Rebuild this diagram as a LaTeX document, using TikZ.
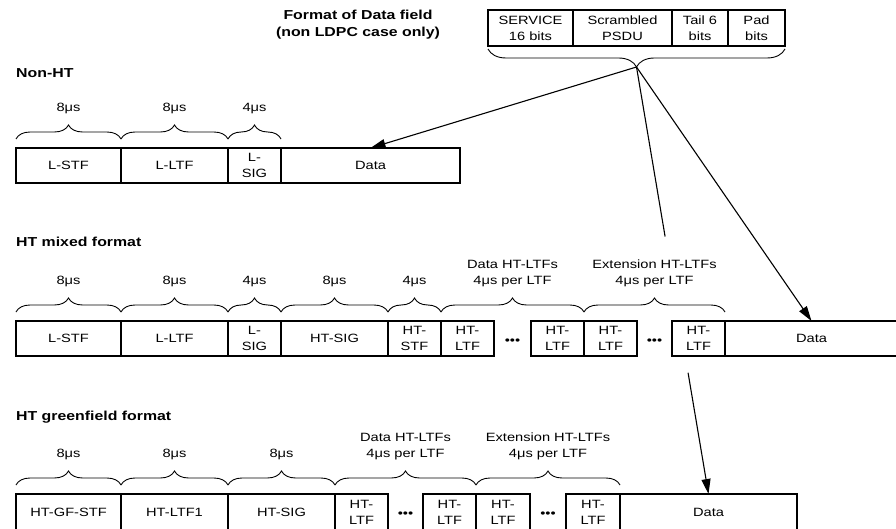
\documentclass[tikz,border=0pt]{standalone}
\usepackage{fontspec}
\setmainfont{Liberation Sans}[FakeStretch=1.22]
\usetikzlibrary{arrows.meta, positioning, calc, decorations.pathreplacing}

\begin{document}
\begin{tikzpicture}[x=1pt, y=-1pt,
  field/.style={rectangle, draw, line width=1.1pt, minimum height=35pt, inner sep=0pt, outer sep=0pt, align=center, font=\fontsize{12}{16}\selectfont},
  brace/.style={decorate, decoration={brace, amplitude=14pt, raise=9pt}, line width=0.9pt},
  downbrace/.style={decorate, decoration={brace, amplitude=18pt, raise=3pt}, line width=0.9pt},
  dur/.style={midway, above=34pt, inner sep=0pt, align=center, font=\fontsize{12}{16}\selectfont},
  title/.style={inner sep=0pt, align=center, font=\bfseries\fontsize{13}{17}\selectfont},
  dots/.style={inner sep=0pt, font=\fontsize{12}{12}\selectfont},
  arrow/.style={-{Triangle[length=15pt, width=9pt]}, line width=1.1pt}
]
  \useasboundingbox (0,0) rectangle (896,529);
  % Data field format
  \node[title] (fmt) at (358,24.5) {Format of Data field\\(non LDPC case only)};
  \node[field, minimum height=36pt, minimum width=85pt, anchor=west] (svc) at (488,28) {SERVICE\\16 bits};
  \node[field, minimum height=36pt, minimum width=99pt, right=0pt of svc] (psdu) {Scrambled\\PSDU};
  \node[field, minimum height=36pt, minimum width=56pt, right=0pt of psdu] (tail) {Tail 6\\bits};
  \node[field, minimum height=36pt, minimum width=57pt, right=0pt of tail] (pad) {Pad\\bits};
  \draw[downbrace] (pad.south east) -- (svc.south west);
  \coordinate (tip) at (636.5,67);
  % Non-HT
  \node[title, anchor=west] (nlbl) at (16,73) {Non-HT};
  \node[field, minimum width=105pt, anchor=west] (n1) at (16,165.5) {L-STF};
  \node[field, minimum width=107pt, right=0pt of n1] (n2) {L-LTF};
  \node[field, minimum width=53pt, right=0pt of n2] (n3) {L-\\SIG};
  \node[field, minimum width=179pt, right=0pt of n3] (ndata) {Data};
  \draw[brace] (n1.north west) -- node[dur] {8μs} (n1.north east);
  \draw[brace] (n2.north west) -- node[dur] {8μs} (n2.north east);
  \draw[brace] (n3.north west) -- node[dur] {4μs} (n3.north east);
  % HT mixed format
  \node[title, anchor=west] (mlbl) at (16,242) {HT mixed format};
  \node[field, minimum width=105pt, anchor=west] (m1) at (16,338.5) {L-STF};
  \node[field, minimum width=107pt, right=0pt of m1] (m2) {L-LTF};
  \node[field, minimum width=53pt, right=0pt of m2] (m3) {L-\\SIG};
  \node[field, minimum width=107pt, right=0pt of m3] (m4) {HT-SIG};
  \node[field, minimum width=53pt, right=0pt of m4] (m5) {HT-\\STF};
  \node[field, minimum width=53pt, right=0pt of m5] (m6) {HT-\\LTF};
  \node[field, minimum width=53pt, right=37pt of m6] (m7) {HT-\\LTF};
  \node[field, minimum width=53pt, right=0pt of m7] (m8) {HT-\\LTF};
  \node[field, minimum width=53pt, right=35pt of m8] (m9) {HT-\\LTF};
  \node[field, minimum width=173pt, right=0pt of m9] (mdata) {Data};
  \node[dots] (md1) at ($(m6.east)!0.5!(m7.west)+(0,3)$) {•••};
  \node[dots] (md2) at ($(m8.east)!0.5!(m9.west)+(0,3)$) {•••};
  \draw[brace] (m1.north west) -- node[dur] {8μs} (m1.north east);
  \draw[brace] (m2.north west) -- node[dur] {8μs} (m2.north east);
  \draw[brace] (m3.north west) -- node[dur] {4μs} (m3.north east);
  \draw[brace] (m4.north west) -- node[dur] {8μs} (m4.north east);
  \draw[brace] (m5.north west) -- node[dur] {4μs} (m5.north east);
  \draw[brace] (m6.north west) -- node[dur] {Data HT-LTFs\\4μs per LTF} (m7.north east);
  \draw[brace] (m8.north west) -- node[dur] {Extension HT-LTFs\\4μs per LTF} (m9.north east);
  % HT greenfield format
  \node[title, anchor=west] (glbl) at (16,417) {HT greenfield format};
  \node[field, minimum height=36pt, minimum width=105pt, anchor=west] (g1) at (16,512) {HT-GF-STF};
  \node[field, minimum height=36pt, minimum width=107pt, right=0pt of g1] (g2) {HT-LTF1};
  \node[field, minimum height=36pt, minimum width=107pt, right=0pt of g2] (g3) {HT-SIG};
  \node[field, minimum height=36pt, minimum width=53pt, right=0pt of g3] (g4) {HT-\\LTF};
  \node[field, minimum height=36pt, minimum width=53pt, right=35pt of g4] (g5) {HT-\\LTF};
  \node[field, minimum height=36pt, minimum width=54pt, right=0pt of g5] (g6) {HT-\\LTF};
  \node[field, minimum height=36pt, minimum width=54pt, right=36pt of g6] (g7) {HT-\\LTF};
  \node[field, minimum height=36pt, minimum width=177pt, right=0pt of g7] (gdata) {Data};
  \node[dots] (gd1) at ($(g4.east)!0.5!(g5.west)+(0,3)$) {•••};
  \node[dots] (gd2) at ($(g6.east)!0.5!(g7.west)+(0,3)$) {•••};
  \draw[brace] (g1.north west) -- node[dur] {8μs} (g1.north east);
  \draw[brace] (g2.north west) -- node[dur] {8μs} (g2.north east);
  \draw[brace] (g3.north west) -- node[dur] {8μs} (g3.north east);
  \draw[brace] (g4.north west) -- node[dur] {Data HT-LTFs\\4μs per LTF} (g5.north east);
  \draw[brace] (g6.north west) -- node[dur] {Extension HT-LTFs\\4μs per LTF} (g7.north east);
  % Arrows
  \draw[arrow] (tip) -- (ndata.north);
  \draw[arrow] (tip) -- (mdata.north);
  \draw[line width=1.1pt] (tip) -- ($(tip)!0.397!(gdata.north)$);
  \draw[arrow] ($(tip)!0.716!(gdata.north)$) -- (gdata.north);
\end{tikzpicture}
\end{document}
